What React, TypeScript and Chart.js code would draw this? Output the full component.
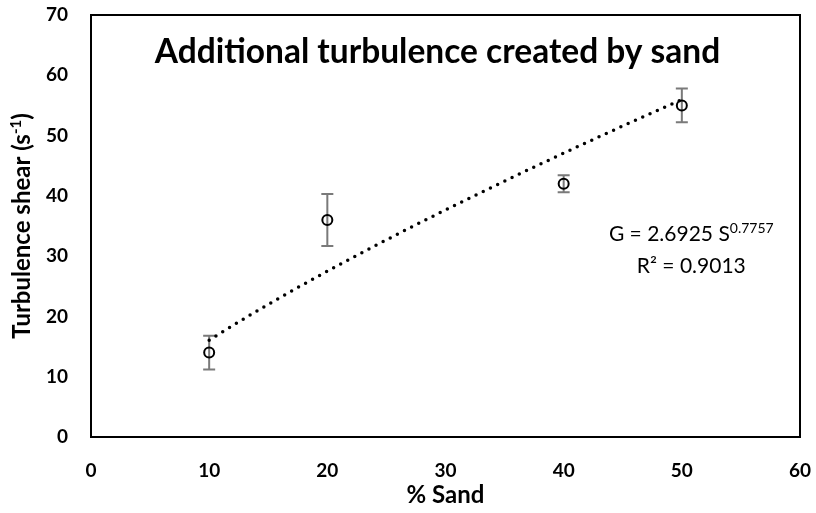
import React, { useEffect, useRef } from "react";
import { Chart, registerables } from "chart.js";

Chart.register(...registerables);

// Measured shear for each sand fraction, with the spread of each measurement
const sandPct = [10, 20, 40, 50];
const shear = [14, 36, 42, 55];
const shearErr = [2.8, 4.3, 1.4, 2.8];

// Power-law fit G = a * S^b, as stated on the chart
const fitA = 2.6925;
const fitB = 0.7757;
const fitR2 = "0.9013";
const fitFrom = 10;
const fitTo = 50;

const xMin = 0;
const xMax = 60;
const xStep = 10;
const yMin = 0;
const yMax = 70;
const yStep = 10;

const titleText = "Additional turbulence created by sand";
const xTitle = "% Sand";
const yTitleMain = "Turbulence shear (s";
const yTitleSup = "-1";
const yTitleEnd = ")";

const FONT = "Lato, 'Open Sans', sans-serif";

function fitPoints() {
  const pts: { x: number; y: number }[] = [];
  for (let s = fitFrom; s <= fitTo; s += 1) {
    pts.push({ x: s, y: fitA * Math.pow(s, fitB) });
  }
  return pts;
}

const decorPlugin = {
  id: "decor",
  beforeDatasetsDraw(chart: any) {
    // error bars, drawn beneath the hollow markers
    const ctx = chart.ctx;
    const xs = chart.scales.x;
    const ys = chart.scales.y;
    ctx.save();
    ctx.strokeStyle = "#7a7a7a";
    ctx.lineWidth = 2;
    const cap = 6;
    sandPct.forEach((s, i) => {
      const px = xs.getPixelForValue(s);
      const top = ys.getPixelForValue(shear[i] + shearErr[i]);
      const bot = ys.getPixelForValue(shear[i] - shearErr[i]);
      ctx.beginPath();
      ctx.moveTo(px, top);
      ctx.lineTo(px, bot);
      ctx.moveTo(px - cap, top);
      ctx.lineTo(px + cap, top);
      ctx.moveTo(px - cap, bot);
      ctx.lineTo(px + cap, bot);
      ctx.stroke();
    });
    ctx.restore();
  },
  afterDraw(chart: any) {
    const ctx = chart.ctx;
    const area = chart.chartArea;
    const xs = chart.scales.x;
    const ys = chart.scales.y;
    ctx.save();

    // plot frame
    ctx.strokeStyle = "#000";
    ctx.lineWidth = 2;
    ctx.strokeRect(area.left, area.top, area.right - area.left, area.bottom - area.top);

    // chart title inside the frame
    ctx.fillStyle = "#000";
    ctx.font = `bold 33.5px ${FONT}`;
    ctx.textAlign = "center";
    ctx.textBaseline = "alphabetic";
    ctx.fillText(titleText, (area.left + area.right) / 2 - 8, area.top + 48);

    // fit equation
    const cx = xs.getPixelForValue(50.8);
    const line1 = ys.getPixelForValue(32.5);
    const line2 = ys.getPixelForValue(27.2);
    const mainFont = `21px ${FONT}`;
    const supFont = `14px ${FONT}`;
    const eqMain = `G = ${fitA} S`;
    const eqSup = `${fitB}`;
    ctx.font = mainFont;
    const wMain = ctx.measureText(eqMain).width;
    ctx.font = supFont;
    const wSup = ctx.measureText(eqSup).width;
    const x0 = cx - (wMain + wSup) / 2;
    ctx.textAlign = "left";
    ctx.font = mainFont;
    ctx.fillText(eqMain, x0, line1);
    ctx.font = supFont;
    ctx.fillText(eqSup, x0 + wMain, line1 - 8);

    const r2 = `R\u00b2 = ${fitR2}`;
    ctx.font = mainFont;
    const wr = ctx.measureText(r2).width;
    ctx.fillText(r2, cx - wr / 2, line2);

    // rotated y-axis title with superscript
    const tFont = `bold 24px ${FONT}`;
    const tSup = `bold 15px ${FONT}`;
    ctx.font = tFont;
    const w1 = ctx.measureText(yTitleMain).width;
    const w3 = ctx.measureText(yTitleEnd).width;
    ctx.font = tSup;
    const w2 = ctx.measureText(yTitleSup).width;
    const total = w1 + w2 + w3;
    ctx.translate(30, (area.top + area.bottom) / 2);
    ctx.rotate(-Math.PI / 2);
    let tx = -total / 2;
    ctx.textAlign = "left";
    ctx.textBaseline = "alphabetic";
    ctx.font = tFont;
    ctx.fillText(yTitleMain, tx, 0);
    tx += w1;
    ctx.font = tSup;
    ctx.fillText(yTitleSup, tx, -9);
    tx += w2;
    ctx.font = tFont;
    ctx.fillText(yTitleEnd, tx, 0);

    ctx.restore();
  },
};

// Invisible tick marks push the labels away from the frame
const hiddenTicks = (len: number) => ({
  display: true,
  drawOnChartArea: false,
  drawTicks: true,
  tickLength: len,
  tickColor: "rgba(0,0,0,0)",
  color: "rgba(0,0,0,0)",
});

export default function App() {
  const canvasRef = useRef<HTMLCanvasElement | null>(null);

  useEffect(() => {
    if (!canvasRef.current) return;
    const chart = new Chart(canvasRef.current, {
      type: "scatter",
      data: {
        datasets: [
          {
            label: "Shear",
            data: sandPct.map((s, i) => ({ x: s, y: shear[i] })),
            pointRadius: 5,
            pointHoverRadius: 5,
            pointBorderWidth: 2,
            pointBorderColor: "#000",
            pointBackgroundColor: "rgba(0,0,0,0)",
            showLine: false,
          },
          {
            label: "Power fit",
            data: fitPoints(),
            showLine: true,
            pointRadius: 0,
            borderColor: "#000",
            borderWidth: 3.5,
            borderDash: [0, 8],
            borderCapStyle: "round",
            tension: 0,
          } as any,
        ],
      },
      options: {
        responsive: false,
        animation: false,
        layout: { padding: { left: 0, right: 16, top: 15, bottom: 0 } },
        plugins: {
          legend: { display: false },
          tooltip: { enabled: false },
          title: { display: false },
        },
        scales: {
          x: {
            type: "linear",
            min: xMin,
            max: xMax,
            grid: hiddenTicks(22),
            border: { display: false },
            ticks: {
              stepSize: xStep,
              color: "#000",
              padding: 0,
              font: { family: FONT, size: 19, weight: "bold" },
            },
            title: {
              display: true,
              text: xTitle,
              color: "#000",
              font: { family: FONT, size: 24, weight: "bold" },
              padding: { top: 0, bottom: 3 },
            },
            afterFit(scale: any) {
              scale.height = 76;
            },
          },
          y: {
            type: "linear",
            min: yMin,
            max: yMax,
            grid: hiddenTicks(23),
            border: { display: false },
            ticks: {
              stepSize: yStep,
              color: "#000",
              padding: 0,
              font: { family: FONT, size: 19, weight: "bold" },
            },
            afterFit(scale: any) {
              scale.width = 91;
            },
          },
        },
      },
      plugins: [decorPlugin],
    });
    return () => chart.destroy();
  }, []);

  return (
    <div style={{ position: "fixed", left: 0, top: 0, width: 816, height: 513, background: "#fff" }}>
      <canvas ref={canvasRef} width={816} height={513} />
    </div>
  );
}
